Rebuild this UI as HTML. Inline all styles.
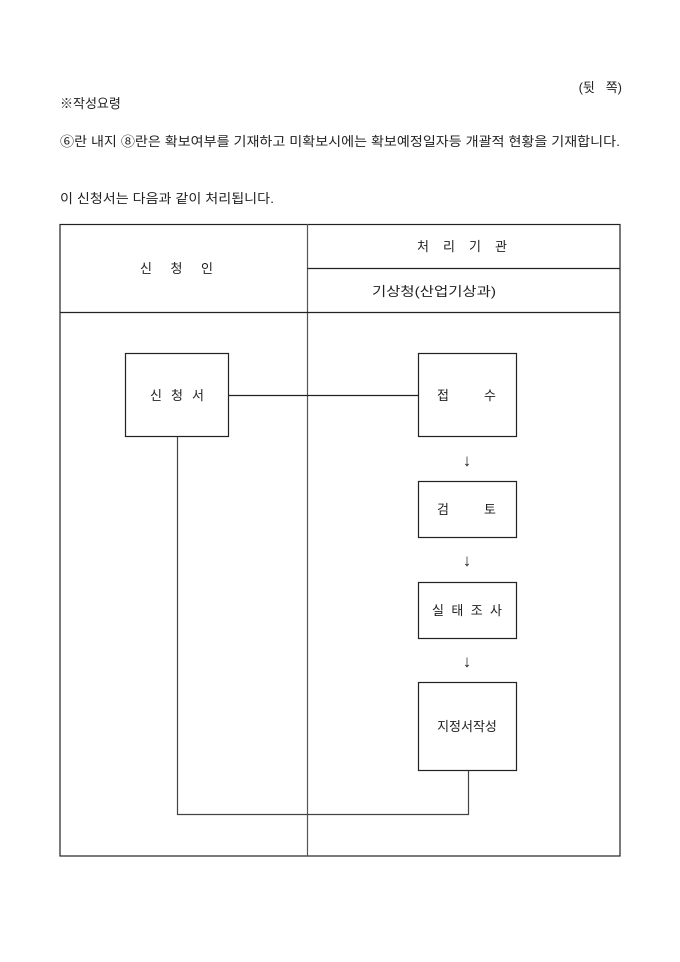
<!DOCTYPE html>
<html><head><meta charset="utf-8"><style>
html,body{margin:0;padding:0;background:#fff;width:680px;height:962px;overflow:hidden}
svg text{font-family:"Liberation Sans","Noto Sans CJK KR","NanumGothic",sans-serif;font-size:13px;fill:#222}
</style></head><body>
<svg width="680" height="962" xmlns="http://www.w3.org/2000/svg">
<text x="622" y="92" text-anchor="end" xml:space="preserve">(뒷   쪽)</text>
<text x="60" y="108">※작성요령</text>
<text x="60" y="146" textLength="560" lengthAdjust="spacingAndGlyphs">⑥란 내지 ⑧란은 확보여부를 기재하고 미확보시에는 확보예정일자등 개괄적 현황을 기재합니다.</text>
<text x="60" y="203" textLength="214" lengthAdjust="spacingAndGlyphs">이 신청서는 다음과 같이 처리됩니다.</text>
<g stroke="#222" stroke-width="1.2" fill="none">
<rect x="60" y="224.5" width="560" height="631.5"/>
<line x1="307.5" y1="224" x2="307.5" y2="856" stroke="#555"/>
<line x1="307.5" y1="268.5" x2="620" y2="268.5"/>
<line x1="60" y1="312.5" x2="620" y2="312.5"/>
<rect x="125.5" y="353.5" width="103" height="83"/>
<rect x="418.5" y="353.5" width="98" height="83"/>
<rect x="418.5" y="481.5" width="98" height="56"/>
<rect x="418.5" y="582.5" width="98" height="56"/>
<rect x="418.5" y="682.5" width="98" height="88"/>
<line x1="228.5" y1="395.5" x2="418.5" y2="395.5"/>
<polyline points="177.5,437 177.5,814.5 468.5,814.5 468.5,771" stroke="#444"/>
</g>
<text x="140" y="273" textLength="73" xml:space="preserve">신  청  인</text>
<text x="417" y="251" textLength="90" xml:space="preserve">처  리  기  관</text>
<text x="372" y="296" textLength="124" lengthAdjust="spacingAndGlyphs">기상청(산업기상과)</text>
<text x="150" y="400" textLength="54" xml:space="preserve">신 청 서</text>
<text x="437" y="400">접</text><text x="484" y="400">수</text>
<text x="437" y="514">검</text><text x="484" y="514">토</text>
<text x="432" y="615" textLength="70" xml:space="preserve">실 태 조 사</text>
<text x="467" y="731" text-anchor="middle">지정서작성</text>
<text x="467" y="466" text-anchor="middle" style="font-size:17px">↓</text>
<text x="467" y="566" text-anchor="middle" style="font-size:17px">↓</text>
<text x="467" y="667" text-anchor="middle" style="font-size:17px">↓</text>
</svg>
</body></html>
